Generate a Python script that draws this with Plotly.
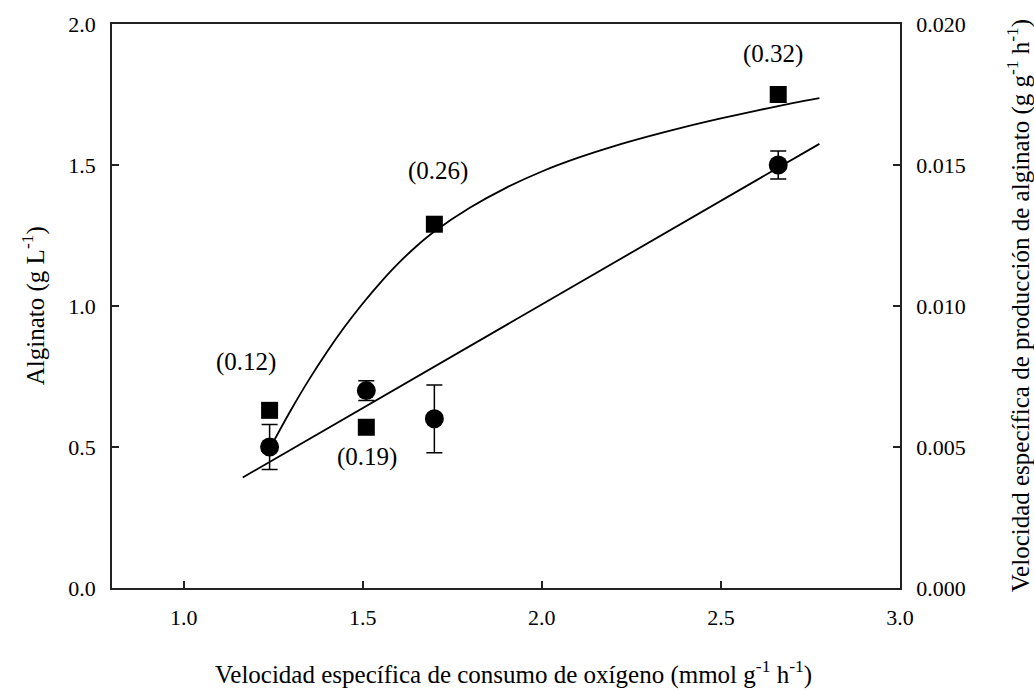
import plotly.graph_objects as go

# Specific oxygen uptake rate (mmol g-1 h-1)
q_o2 = [1.24, 1.51, 1.70, 2.66]

# Alginate concentration (g L-1) with standard deviations
alginate = [0.50, 0.70, 0.60, 1.50]
alginate_err = [0.08, 0.035, 0.12, 0.05]

# Specific alginate production rate (g g-1 h-1)
q_p = [0.0063, 0.0057, 0.0129, 0.0175]
q_p_labels = ["(0.12)", "(0.19)", "(0.26)", "(0.32)"]
label_x = [1.175, 1.511, 1.71, 2.645]
label_y = [0.80, 0.465, 1.48, 1.894]

# Linear trend for alginate
lin_x = [1.165, 2.775]
lin_y = [0.392, 1.575]

# Saturation trend for the production rate
curve_x = [1.245, 1.30, 1.35, 1.40, 1.45, 1.50, 1.55, 1.60, 1.65, 1.70, 1.80,
           1.90, 2.00, 2.10, 2.20, 2.30, 2.40, 2.50, 2.60, 2.70, 2.775]
curve_y = [0.00505, 0.00632, 0.00739, 0.00837, 0.00927, 0.01009, 0.01084,
           0.01152, 0.01212, 0.01264, 0.01349, 0.01419, 0.01477, 0.01525,
           0.01566, 0.01602, 0.01635, 0.01665, 0.01693, 0.01719, 0.01737]

X_TITLE = "Velocidad específica de consumo de oxígeno (mmol g<sup>-1</sup> h<sup>-1</sup>)"
Y_TITLE = "Alginato (g L<sup>-1</sup>)"
Y2_TITLE = "Velocidad específica de producción de alginato (g g<sup>-1</sup> h<sup>-1</sup>)"

FONT = "Liberation Serif, Times New Roman, Times, serif"

fig = go.Figure()

fig.add_trace(go.Scatter(x=lin_x, y=lin_y, mode="lines",
                         line=dict(color="black", width=1.8),
                         showlegend=False, hoverinfo="skip"))
fig.add_trace(go.Scatter(x=curve_x, y=curve_y, mode="lines", yaxis="y2",
                         line=dict(color="black", width=1.8, shape="spline"),
                         showlegend=False, hoverinfo="skip"))
fig.add_trace(go.Scatter(x=q_o2, y=alginate, mode="markers",
                         marker=dict(symbol="circle", size=19, color="black"),
                         error_y=dict(type="data", array=alginate_err, visible=True,
                                      color="black", thickness=1.5, width=8),
                         showlegend=False))
fig.add_trace(go.Scatter(x=q_o2, y=q_p, mode="markers", yaxis="y2",
                         marker=dict(symbol="square", size=17, color="black"),
                         showlegend=False))

for tx, ty, t in zip(label_x, label_y, q_p_labels):
    fig.add_annotation(x=tx, y=ty, text=t, showarrow=False,
                       font=dict(family=FONT, size=25, color="black"))

# Axis titles
title_font = dict(family=FONT, size=25, color="black")
fig.add_annotation(xref="paper", yref="paper", x=0.51, y=-0.15, text=X_TITLE,
                   showarrow=False, xanchor="center", yanchor="middle", font=title_font)
fig.add_annotation(xref="paper", yref="paper", x=-0.10, y=0.5, text=Y_TITLE,
                   showarrow=False, textangle=-90, xanchor="center", yanchor="middle",
                   font=title_font)
fig.add_annotation(xref="paper", yref="paper", x=1.15, y=0.5, text=Y2_TITLE,
                   showarrow=False, textangle=-90, xanchor="center", yanchor="middle",
                   font=title_font)

axis_common = dict(showgrid=False, zeroline=False, linecolor="#222",
                   linewidth=1.5, ticks="inside", ticklen=7, tickwidth=1.5,
                   tickcolor="#222", tickfont=dict(family=FONT, size=22, color="black"))

fig.update_layout(
    width=1034, height=691,
    margin=dict(l=112, r=134, t=20, b=103),
    paper_bgcolor="white", plot_bgcolor="white",
    font=dict(family=FONT, color="black"),
    xaxis=dict(range=[0.8, 3.0], tickvals=[1.0, 1.5, 2.0, 2.5, 3.0],
               ticktext=["1.0", "1.5", "2.0", "2.5", "3.0"],
               mirror=True, ticklabelstandoff=9, **axis_common),
    yaxis=dict(range=[0, 2.0], tickvals=[0, 0.5, 1.0, 1.5, 2.0], tickformat=".1f",
               ticklabelstandoff=10, **axis_common),
    yaxis2=dict(range=[0, 0.020], tickvals=[0, 0.005, 0.010, 0.015, 0.020],
                tickformat=".3f", overlaying="y", side="right",
                ticklabelstandoff=10, **axis_common),
)

fig.write_html("out.html")
